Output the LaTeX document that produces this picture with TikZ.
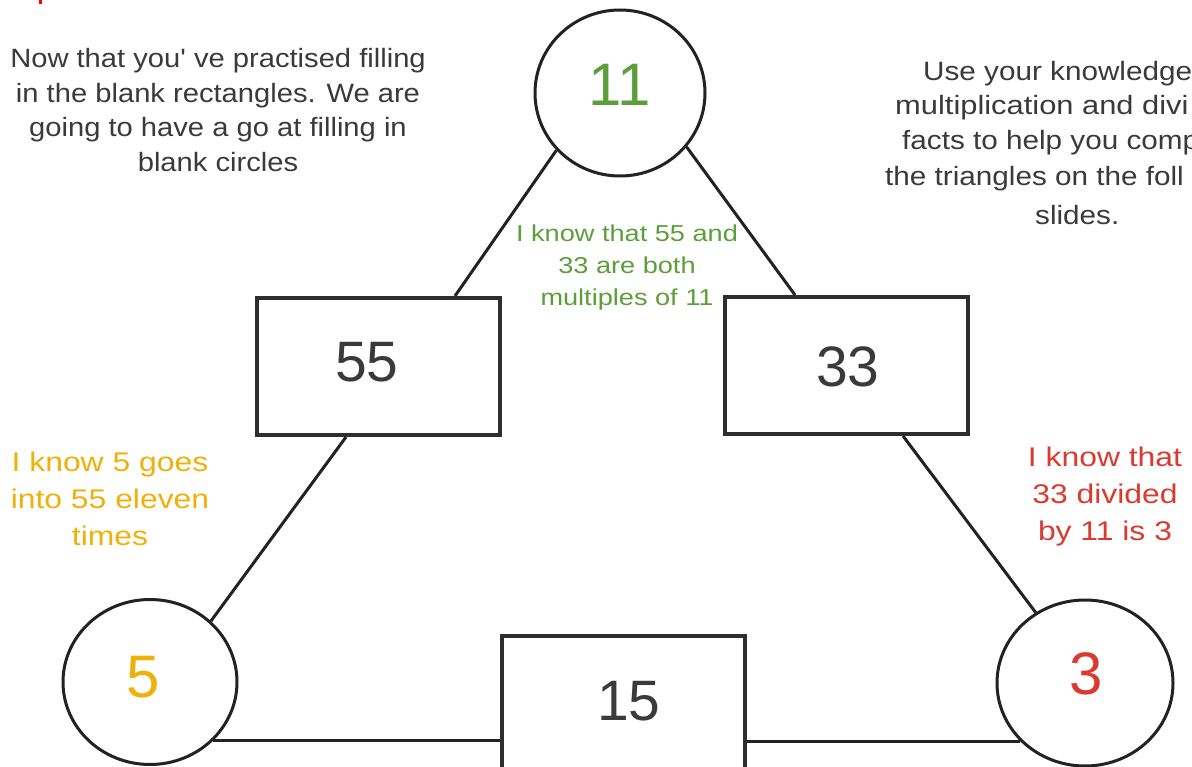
\documentclass[tikz,border=0pt]{standalone}
\usepackage{fontspec}
\usepackage{graphicx}
\setmainfont{Liberation Sans}
\newfontfamily\introfont{Liberation Sans}[FakeStretch=1.1]
\newfontfamily\rightfont{Liberation Sans}[FakeStretch=1.12]
\newfontfamily\hintfont{Liberation Sans}[FakeStretch=1.18]
\usetikzlibrary{shapes.geometric,calc}
\definecolor{txtgray}{RGB}{58,58,58}
\definecolor{linegray}{RGB}{34,34,34}
\definecolor{mygreen}{RGB}{92,158,58}
\definecolor{myorange}{RGB}{240,176,10}
\definecolor{myred}{RGB}{218,58,48}
\tikzset{
  bubble/.style={ellipse,draw=linegray,line width=3pt,fill=white,inner sep=0pt},
  numbox/.style={rectangle,draw=txtgray!80!black,line width=4pt,fill=white,minimum width=243pt,minimum height=137pt,inner sep=0pt},
  bignum/.style={inner sep=0pt,font=\fontsize{60}{60}\selectfont},
  boxnum/.style={inner sep=0pt,text=txtgray,font=\fontsize{57}{57}\selectfont},
  conn/.style={draw=linegray,line width=3pt},
  bigtxt/.style={align=center,inner sep=0pt,text=txtgray,font=\introfont\fontsize{26.5}{34.5}\selectfont},
  righttxt/.style={anchor=west,inner sep=0pt,text=txtgray,font=\rightfont\fontsize{26.5}{34.5}\selectfont},
  hint/.style={align=center,inner sep=0pt,font=\hintfont\fontsize{27}{37}\selectfont},
  smallhint/.style={align=center,inner sep=0pt,font=\hintfont\fontsize{23}{32}\selectfont},
}
\begin{document}
\begin{tikzpicture}[x=1pt,y=-1pt]
\useasboundingbox (0,0) rectangle (1192,767);
\clip (0,0) rectangle (1192,767);
% tiny red mark at top
\fill[red] (39,0) rectangle (42,4);
% texts
\node[bigtxt] (intro) at (218,110) {Now that you' ve practised filling\\in the blank rectangles. We are\\going to have a go at filling in\\blank circles};
\node[righttxt] (tr1) at (923,74) {Use your knowledge};
\node[righttxt] (tr2) at (895,108) {\scalebox{1.04}[1]{multiplication and divi}};
\node[righttxt] (tr3) at (902,143) {facts to help you comp};
\node[righttxt] (tr4) at (885,179) {the triangles on the foll};
\node[righttxt] (tr5) at (1035,215) {slides.};
% circles
\node[bubble,minimum width=170pt,minimum height=166pt] (top) at (620,93) {};
\node[bubble,minimum width=174pt,minimum height=165pt] (left) at (150,682) {};
\node[bubble,minimum width=176pt,minimum height=166pt] (right) at (1085,683) {};
\node[bignum,text=mygreen] (n11) at (620,85) {11};
\node[bignum,text=myorange] (n5) at (143,677) {5};
\node[bignum,text=myred] (n3) at (1086,674) {3};
% rectangles
\node[numbox] (r55) at (378.5,366.5) {};
\node[numbox] (r33) at (846.5,365.5) {};
\node[numbox] (r15) at (623.5,704.5) {};
\node[boxnum] (n55) at (367,362) {55};
\node[boxnum] (n33) at (848,367) {33};
\node[boxnum] (n15) at (629,701) {15};
% connectors
\draw[conn] (top.-138) -- ([xshift=-47pt]r55.north east);
\draw[conn] ([xshift=91pt]r55.south west) -- (left.45);
\draw[conn] (top.-39) -- ([xshift=72pt]r33.north west);
\draw[conn] ([xshift=180pt]r33.south west) -- (right.125);
\draw[conn] (left.-43) -- (left.-43 -| r15.west);
\draw[conn] (right.-138 -| r15.east) -- (right.-138);
% hints
\node[smallhint,text=mygreen] (hgreen) at (627,268) {I know that 55 and\\33 are both\\multiples of 11};
\node[hint,text=myorange] (horange) at (110,499) {I know 5 goes\\into 55 eleven\\times};
\node[hint,text=myred] (hred) at (1105,497) {I know that\\33 divided\\by 11 is 3};
\end{tikzpicture}
\end{document}
